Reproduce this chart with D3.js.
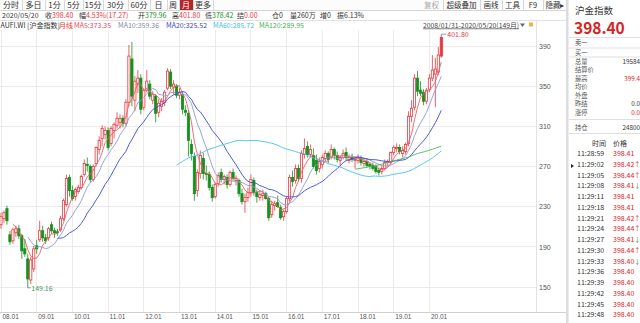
<!DOCTYPE html>
<html>
<head>
<meta charset="utf-8">
<script src="https://cdn.jsdelivr.net/npm/d3@7"></script>
<style>
  body { margin: 0; background: #fff; }
  svg { display: block; font-family: "Noto Sans CJK SC", "Microsoft YaHei", sans-serif; }
</style>
</head>
<body>
<div id="chart"></div>
<script>
// 沪金指数 月线, 2008/01 - 2020/05, [open, high, low, close]
const k2008 = [[212,224,208,220],[218,226,214,224],[228,231,212,216],[202,206,192,195],[196,209,193,207],[204,211,200,208],
               [208,212,198,201],[201,203,178,186],[188,198,180,183],[178,183,149.16,158],[157,180,153,177],[168,191,165,188]];
const k2009 = [[191,197,183,188],[197,216,195,206],[206,211,195,199],[199,203,193,196],[199,210,196,208],[212,215,203,206],
               [206,209,199,204],[205,208,201,204],[207,221,205,218],[218,238,216,236],[232,262,230,258],[259,262,240,246]];
const k2010 = [[246,251,236,238],[240,249,236,247],[245,252,243,249],[249,262,247,260],[262,277,260,273],[272,279,265,271],
               [270,272,254,257],[257,272,255,270],[273,290,270,289],[287,300,282,296],[298,311,290,308],[302,310,297,306]];
const k2011 = [[306,309,286,289],[293,310,290,308],[306,314,298,312],[311,324,308,318],[314,322,308,318],[318,321,309,313],
               [313,337,310,334],[334,391,330,380],[377,394,330,340],[336,360,325,355],[352,366,343,358],[358,362,322,327]];
const k2012 = [[329,348,326,346],[346,366,344,355],[352,356,337,340],[336,345,332,342],[340,342,314,323],[324,337,319,333],
               [330,338,325,335],[334,346,330,344],[348,368,346,365],[364,367,347,350],[349,356,342,352],[350,352,338,341]];
const k2013 = [[341,348,337,344],[342,345,322,327],[326,331,320,324],[323,326,280,296],[292,297,276,283],[280,284,236,243],
               [246,267,240,264],[263,286,258,281],[278,284,257,263],[263,271,256,262],[262,265,246,249],[249,252,235,239]];
const k2014 = [[240,254,238,252],[253,264,250,261],[264,268,254,257],[257,262,252,260],[259,262,248,252],[252,266,250,264],
               [264,268,256,258],[256,261,251,258],[256,258,240,243],[243,248,232,235],[235,243,224,239],[239,249,235,244]];
const k2015 = [[244,262,240,257],[256,259,241,244],[244,247,234,240],[239,246,236,242],[241,247,236,243],[243,245,237,238],
               [238,240,216,219],[222,236,219,232],[231,236,226,233],[234,241,229,230],[229,232,217,219],[220,227,216,225]];
const k2016 = [[225,240,223,238],[238,262,235,259],[259,266,250,255],[256,272,253,268],[268,272,255,258],[258,286,254,283],
               [282,298,278,288],[290,295,279,282],[282,292,279,287],[281,288,268,270],[276,282,262,266],[268,279,264,275]];
const k2017 = [[272,282,268,279],[278,286,275,283],[283,285,273,277],[279,292,277,287],[287,289,277,281],[281,285,274,277],
               [276,281,270,279],[279,287,277,283],[284,289,276,279],[276,282,273,279],[279,283,274,277],[276,280,268,277]];
const k2018 = [[276,282,273,279],[278,281,271,274],[273,278,270,275],[275,278,269,271],[272,274,267,270],[271,274,266,268],
               [270,272,263,265],[266,269,261,264],[265,271,262,268],[268,277,266,274],[274,277,270,275],[274,285,272,284]];
const k2019 = [[284,291,281,289],[288,293,284,289],[289,292,282,285],[283,290,279,286],[285,294,282,292],[293,325,290,320],
               [320,336,314,328],[329,362,326,358],[358,365,340,345],[346,355,340,343],[344,347,331,335],[335,348,332,346]];
const k2020 = [[347,362,344,358],[358,381,355,366],[362,378,329,367],[364,389,361,381],[379.96,401.80,378.42,398.40]];

const candles = [].concat(k2008, k2009, k2010, k2011, k2012, k2013, k2014, k2015, k2016, k2017, k2018, k2019, k2020);
const yearTicks = ["08.01","09.01","10.01","11.01","12.01","13.01","14.01","15.01","16.01","17.01","18.01","19.01","20.01"];
const priceTicks = [150, 190, 230, 270, 310, 350, 390];
const maPeriods = [5, 10, 20, 60, 120];
const maLabels = ["MA5:373.35", "MA10:359.36", "MA20:325.52", "MA60:285.72", "MA120:289.95"];

const tabs = ["分时","多日","1分","5分","15分","30分","60分","日","周","月","更多"];
const tools = ["复权","超级叠加","画线","工具","F9","隐藏▸"];
const quoteItems = [["2020/05/20",""],["收","398.40"],["幅","4.53%(17.27)"],["开","379.96"],["高","401.80"],["低","378.42"],
                    ["结","0.00"],["仓0",""],["量260万",""],["增0",""],["振6.13%",""]];
const panelFields = ["卖一","买一","总量","结算价","最高","均价","外盘","昨结","涨停","持仓"];
const panelValues = ["","","19584","","399.4","","","0.0","0.0","24800"];
const tickTimes = ["11:28:59","11:29:02","11:29:05","11:29:08","11:29:11","11:29:18","11:29:21","11:29:24",
                   "11:29:27","11:29:30","11:29:33","11:29:36","11:29:39","11:29:42","11:29:45","11:29:48"];
const tickPrices = ["398.41","398.42","398.44","398.41","398.41","398.41","398.42","398.44",
                    "398.41","398.44","398.40","398.40","398.40","398.40","398.40","398.40"];
const tickDir = [0, 1, 1, -1, 0, 0, 1, 1, -1, 1, -1, 0, 0, 0, 0, 0];

// ---- styles / layout
const up = "#e8383d", down = "#13911c", textC = "#333";
const maColors = ["#e8606c", "#8d98d4", "#3a49d4", "#45c3e4", "#4cb85a"];
const maTextColors = ["#e8485a", "#7d8aa8", "#3447d4", "#3cc0e0", "#45b255"];
const plotR = 536, plotT = 30, plotB = 312;

const svg = d3.select("#chart").append("svg").attr("width", 640).attr("height", 323);
const x = d3.scaleLinear().domain([0, candles.length - 1]).range([1, 441.3]);
const y = d3.scaleLinear().domain([150, 390]).range([287, 46]);

// ---- grid
const grid = svg.append("g").attr("stroke", "#ebebeb").attr("shape-rendering", "crispEdges");
grid.selectAll("line.h").data(priceTicks).join("line")
  .attr("x1", 0).attr("x2", plotR).attr("y1", d => y(d)).attr("y2", d => y(d));
const yearIdx = yearTicks.map((d, i) => i * 12);
grid.selectAll("line.v").data(yearIdx).join("line")
  .attr("x1", d => x(d)).attr("x2", d => x(d)).attr("y1", plotT).attr("y2", plotB);
svg.append("line").attr("x1", plotR + 0.5).attr("x2", plotR + 0.5).attr("y1", 20).attr("y2", plotB)
  .attr("stroke", "#e2e2e2");
svg.append("line").attr("x1", 0).attr("x2", 566).attr("y1", plotB + 0.5).attr("y2", plotB + 0.5)
  .attr("stroke", "#d0d0d0");

// ---- axes
const gy = svg.append("g").attr("transform", `translate(${plotR},0)`)
  .call(d3.axisRight(y).tickValues(priceTicks).tickSize(0).tickPadding(3));
gy.select(".domain").remove();
gy.selectAll("text").attr("font-size", 7).attr("fill", "#555").attr("font-family", "inherit");

const gx = svg.append("g").attr("transform", `translate(0,${plotB})`)
  .call(d3.axisBottom(x).tickValues(yearIdx).tickFormat((d, i) => yearTicks[i]).tickSize(0).tickPadding(2.5));
gx.select(".domain").remove();
gx.selectAll("text").attr("font-size", 6.5).attr("fill", "#555").attr("text-anchor", "start")
  .attr("dx", 1).attr("font-family", "inherit");

// ---- candles
const last = candles.length - 1;
const bw = 2.2;
const cg = svg.append("g");
cg.selectAll("line").data(candles).join("line")
  .attr("x1", (d, i) => x(i)).attr("x2", (d, i) => x(i))
  .attr("y1", d => y(d[1])).attr("y2", d => y(d[2]))
  .attr("stroke", d => d[3] >= d[0] ? up : down).attr("stroke-width", 0.8);
cg.selectAll("rect").data(candles).join("rect")
  .attr("x", (d, i) => x(i) - bw / 2).attr("width", bw)
  .attr("y", d => y(Math.max(d[0], d[3])))
  .attr("height", d => Math.max(0.8, Math.abs(y(d[0]) - y(d[3]))))
  .attr("fill", (d, i) => d[3] >= d[0] ? (i === last ? up : "#fff") : down)
  .attr("stroke", d => d[3] >= d[0] ? up : down).attr("stroke-width", 0.8);

// ---- moving averages
const closes = candles.map(d => d[3]);
const line = d3.line().x(d => x(d.i)).y(d => y(d.v));
maPeriods.forEach((p, k) => {
  const pts = [];
  for (let i = p - 1; i < closes.length; i++) pts.push({ i, v: d3.mean(closes.slice(i - p + 1, i + 1)) });
  svg.append("path").attr("d", line(pts)).attr("fill", "none")
    .attr("stroke", maColors[k]).attr("stroke-width", 0.9);
});

// ---- max / min labels
const iMax = d3.maxIndex(candles, d => d[1]);
const iMin = d3.minIndex(candles, d => d[2]);
svg.append("path").attr("d", `M${x(iMax)},${y(candles[iMax][1])}h5`).attr("stroke", "#777").attr("stroke-width", 0.7);
svg.append("text").attr("x", x(iMax) + 6).attr("y", y(candles[iMax][1]) + 2.8)
  .attr("font-size", 7).attr("fill", "#e03a3a").text(d3.format(".2f")(candles[iMax][1]));
svg.append("path").attr("d", `M${x(iMin)},${y(candles[iMin][2])}h3`).attr("stroke", "#777").attr("stroke-width", 0.7);
svg.append("text").attr("x", x(iMin) + 3.5).attr("y", y(candles[iMin][2]) + 2.8)
  .attr("font-size", 7).attr("fill", "#3a9a5c").text(d3.format(".2f")(candles[iMin][2]));

// ---- header toolbar
svg.append("rect").attr("x", 0).attr("y", 0).attr("width", 567).attr("height", 10.5).attr("fill", "#fcfcfc");
const tabX = [0, 22, 45, 64, 83, 103, 128, 150, 167, 179, 193, 213];
svg.append("rect").attr("x", tabX[9]).attr("y", 0).attr("width", tabX[10] - tabX[9]).attr("height", 10.5).attr("fill", "#b3262b");
tabs.forEach((t, i) => {
  svg.append("text").attr("x", (tabX[i] + tabX[i + 1]) / 2).attr("y", 8.2).attr("text-anchor", "middle")
    .attr("font-size", 8).attr("fill", i === 9 ? "#fff" : textC).text(t);
  svg.append("line").attr("x1", tabX[i + 1] + 0.5).attr("x2", tabX[i + 1] + 0.5).attr("y1", 0).attr("y2", 10.5).attr("stroke", "#d8d8d8");
});
const toolX = [420, 443, 480, 502, 523, 543, 567];
tools.forEach((t, i) => {
  svg.append("text").attr("x", (toolX[i] + toolX[i + 1]) / 2).attr("y", 8.2).attr("text-anchor", "middle")
    .attr("font-size", 7.5).attr("fill", i === 0 ? "#aaa" : textC).text(t);
  svg.append("line").attr("x1", toolX[i + 1] + 0.5).attr("x2", toolX[i + 1] + 0.5).attr("y1", 0).attr("y2", 10.5).attr("stroke", "#d8d8d8");
});
svg.append("line").attr("x1", 0).attr("x2", 567).attr("y1", 10.5).attr("y2", 10.5).attr("stroke", "#d6d6d6");
svg.append("line").attr("x1", 0).attr("x2", 567).attr("y1", 20.5).attr("y2", 20.5).attr("stroke", "#e2e2e2");

// quote line
const quoteX = [2, 45, 79, 138, 172, 205, 237, 272, 290, 320, 337];
const quoteC = ["", up, up, down, up, down, up, "", "", "", ""];
quoteItems.forEach((q, i) => {
  const t = svg.append("text").attr("x", quoteX[i]).attr("y", 18).attr("font-size", 7).attr("fill", textC);
  t.append("tspan").text(q[0]);
  if (q[1]) t.append("tspan").attr("fill", quoteC[i]).text(q[1]);
});

// legend line
svg.append("text").attr("x", 0.5).attr("y", 28).attr("font-size", 7).attr("fill", textC).text("AUFI.WI [沪金指数]");
svg.append("text").attr("x", 59).attr("y", 28).attr("font-size", 7).attr("fill", "#e03a3a").text("月线");
const legX = [74, 118, 166, 213, 259];
maLabels.forEach((m, k) => {
  svg.append("text").attr("x", legX[k]).attr("y", 28).attr("font-size", 7).attr("fill", maTextColors[k]).text(m);
});
svg.append("text").attr("x", 423).attr("y", 27.5).attr("font-size", 6.8).attr("fill", "#444")
  .attr("text-decoration", "underline").text("2008/01/31-2020/05/20(149月)");
svg.append("path").attr("d", "M520,23.5h5l-2.5,3.5z").attr("fill", "#666");
svg.append("rect").attr("x", 529).attr("y", 22.5).attr("width", 4).attr("height", 4).attr("fill", "#f0b43c");

// ---- right panel
svg.append("rect").attr("x", 566).attr("y", 0).attr("width", 2.5).attr("height", 323).attr("fill", "#dcdcdc");
svg.append("text").attr("x", 575).attr("y", 13.5).attr("font-size", 9.5).attr("fill", "#333").text("沪金指数");
svg.append("text").attr("x", 574).attr("y", 33.5).attr("font-size", 15.5).attr("font-weight", "bold")
  .attr("fill", "#d42424").text("398.40");
[37.5, 48, 57, 119.5, 133.5].forEach(yy => {
  svg.append("line").attr("x1", 569).attr("x2", 640).attr("y1", yy).attr("y2", yy).attr("stroke", "#e0e0e0");
});
const fieldY = [45.3, 54.8, 63.8, 72.2, 81, 89.4, 97.8, 106.4, 114.8, 130];
const fieldC = ["", "", "#333", "", "#d42424", "", "", "#333", "#d42424", "#333"];
panelFields.forEach((f, i) => {
  svg.append("text").attr("x", 575).attr("y", fieldY[i]).attr("font-size", 6.3).attr("fill", "#555").text(f);
  if (panelValues[i]) svg.append("text").attr("x", 640).attr("y", fieldY[i]).attr("text-anchor", "end")
    .attr("font-size", 6.3).attr("fill", fieldC[i]).text(panelValues[i]);
});
svg.append("text").attr("x", 592).attr("y", 146).attr("font-size", 7).attr("fill", "#333").text("时间");
svg.append("text").attr("x", 613).attr("y", 146).attr("font-size", 7).attr("fill", "#333").text("价格");
tickTimes.forEach((t, i) => {
  const yy = 156 + i * 10.76;
  svg.append("text").attr("x", 577).attr("y", yy).attr("font-size", 7).attr("fill", "#333").text(t);
  svg.append("text").attr("x", 613).attr("y", yy).attr("font-size", 7).attr("fill", "#d42424").text(tickPrices[i]);
  if (tickDir[i]) svg.append("text").attr("x", 634).attr("y", yy).attr("font-size", 6.5)
    .attr("fill", tickDir[i] > 0 ? "#d42424" : "#1a9a2a").text(tickDir[i] > 0 ? "↑" : "↓");
});
svg.append("path").attr("d", "M571,164l3,2l-3,2z").attr("fill", "#222");
</script>
</body>
</html>
